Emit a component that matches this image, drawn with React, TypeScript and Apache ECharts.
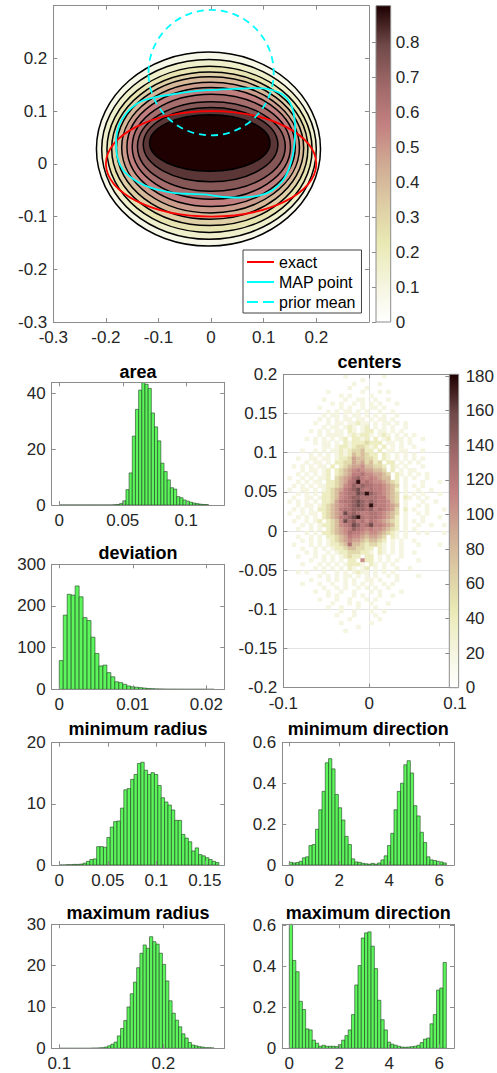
import React, { useEffect, useRef } from "react";
import * as echarts from "echarts";

const FONT = '"Liberation Sans", Arial, Helvetica, sans-serif';
const TEXT_COLOR = "#262626";
const AXIS_COLOR = "#8c8c8c";
const BAR_FILL = "#5cf55c";
const BAR_EDGE = "#1f3f1f";
const TICK_FS = 17;

// flipped MATLAB "pink" colormap, low -> high
const pinkMap = ["#ffffff", "#f4f4dd", "#e9e9b4", "#ddcca4", "#d0aa93", "#c38080", "#9f6868", "#704949", "#1e0000"];

// ---------- top panel: posterior density contours ----------
const topTickMarks = [-0.3, -0.2, -0.1, 0, 0.1, 0.2, 0.3];
const topTickLabels = [-0.3, -0.2, -0.1, 0, 0.1, 0.2];
const contourLevel = [0.08, 0.1625, 0.245, 0.3275, 0.41, 0.4925, 0.575, 0.6575, 0.74, 0.8225, 0.905];
const contourLeft = [-0.218, -0.208, -0.198, -0.189, -0.18, -0.17, -0.16, -0.15, -0.14, -0.129, -0.117];
const contourRight = [0.208, 0.2, 0.192, 0.184, 0.176, 0.168, 0.16, 0.151, 0.141, 0.127, 0.112];
const contourTop = [0.212, 0.198, 0.185, 0.174, 0.165, 0.155, 0.145, 0.132, 0.118, 0.107, 0.093];
const contourBottom = [-0.156, -0.143, -0.13, -0.117, -0.105, -0.093, -0.081, -0.067, -0.052, -0.034, -0.014];
const densityMax = 0.906;
const densityTicks = [0, 0.1, 0.2, 0.3, 0.4, 0.5, 0.6, 0.7, 0.8];
const exactShape = [0, 0, 0.2, 0.1]; // cx, cy, rx, ry
const priorMeanShape = [0, 0.173, 0.119, 0.119];
const mapPointX = [-0.1287, -0.1033, -0.0716, -0.0462, -0.0081, 0.0426, 0.0807, 0.1124, 0.1378, 0.1537, 0.16, 0.1569, 0.1492, 0.1365, 0.1156, 0.0902, 0.0553, 0.0236, -0.0081, -0.0398, -0.0716, -0.1001, -0.1255, -0.1477, -0.1668, -0.1782, -0.1807, -0.1744, -0.1591, -0.1426, -0.1287];
const mapPointY = [0.1206, 0.127, 0.132, 0.1359, 0.1397, 0.1422, 0.1435, 0.141, 0.1302, 0.1079, 0.0635, 0.0254, -0.0063, -0.0317, -0.0508, -0.0603, -0.0641, -0.0629, -0.0584, -0.0571, -0.0552, -0.0495, -0.0413, -0.0292, -0.0127, 0.0127, 0.0444, 0.0749, 0.0984, 0.113, 0.1206];

// ---------- histograms (pdf normalised) ----------
const areaStart = 0, areaBin = 0.0025;
const areaPdf = [0, 0, 0, 0, 0, 0, 0, 0, 0, 0, 0, 0, 0, 0, 0, 0, 0, 0.1, 0.2, 0.5, 1.5, 5.5, 11.5, 24.7, 34.3, 41.2, 43.9, 43.3, 41.8, 33, 28, 23, 15, 12, 9, 6.2, 5.7, 3, 2.6, 1.8, 1.4, 1, 0.7, 0.5, 0.3, 0.2, 0.15];
const areaXTicks = [0, 0.05, 0.1];
const areaYTicks = [0, 20, 40];

const devStart = 0, devBin = 0.00054;
const devPdf = [69, 178, 228, 226, 248, 222, 172, 165, 125, 86, 56, 58, 40, 30, 18, 16, 12, 8, 6, 5, 4, 3, 2, 1.5, 1, 0.8, 0.5, 0.3, 0.3, 0.2, 0.2, 0.1, 0.1, 0.1, 0.1, 0.1, 0.1, 0.05, 0.05];
const devXTicks = [0, 0.01, 0.02];
const devYTicks = [0, 100, 200, 300];

const minRStart = 0, minRBin = 0.0035;
const minRPdf = [0, 0, 0.05, 0.05, 0.1, 0.1, 0.15, 0.3, 0.6, 0.9, 1.0, 3.0, 3.0, 2.9, 4.5, 6.2, 7.1, 7.2, 9.3, 12.3, 12.5, 14.0, 14.8, 16.6, 16.8, 15.5, 14.8, 15.1, 14.8, 13.0, 11.0, 10.3, 9.8, 9.0, 7.3, 7.3, 5.0, 4.4, 3.8, 2.3, 2.8, 1.7, 1.5, 1.2, 0.9, 0.6, 0.4];
const minRXTicks = [0, 0.05, 0.1, 0.15];
const minRYTicks = [0, 10, 20];

const dirStart = 0, dirBin = 0.1309;
const minDirPdf = [0.013, 0.01, 0.012, 0.018, 0.035, 0.04, 0.095, 0.1, 0.175, 0.27, 0.36, 0.5, 0.52, 0.47, 0.345, 0.28, 0.22, 0.14, 0.1, 0.03, 0.015, 0.013, 0.008, 0.006, 0.004, 0.008, 0.004, 0.01, 0.025, 0.045, 0.095, 0.155, 0.27, 0.36, 0.4, 0.49, 0.51, 0.45, 0.29, 0.24, 0.16, 0.11, 0.04, 0.025, 0.022, 0.018, 0.015, 0.01];
const dirXTicks = [0, 2, 4, 6];
const dirYTicks = [0, 0.2, 0.4, 0.6];

const maxRStart = 0.1, maxRBin = 0.0031;
const maxRPdf = [0, 0, 0, 0, 0, 0, 0, 0, 0, 0, 0.05, 0.05, 0.1, 0.15, 0.3, 0.6, 1.0, 1.5, 3.0, 4.8, 6.7, 10, 13.2, 16, 19.5, 23, 25, 24.2, 27, 25.8, 25.2, 23, 20.3, 16.3, 11.5, 8.5, 6.8, 5.2, 3.5, 2.5, 1.4, 0.8, 0.6, 0.4, 0.3, 0.15, 0.15, 0.1];
const maxRXTicks = [0.1, 0.2];
const maxRYTicks = [0, 10, 20, 30];

const maxDirPdf = [0.607, 0.43, 0.375, 0.23, 0.19, 0.095, 0.09, 0.04, 0.025, 0.01, 0.015, 0.01, 0.01, 0.01, 0.008, 0.018, 0.04, 0.062, 0.09, 0.165, 0.31, 0.405, 0.54, 0.565, 0.57, 0.5, 0.39, 0.235, 0.14, 0.09, 0.03, 0.02, 0.015, 0.01, 0.006, 0.005, 0.006, 0.008, 0.01, 0.015, 0.028, 0.045, 0.05, 0.12, 0.165, 0.285, 0.295, 0.42];

// ---------- centers: 2-D histogram, 0.005 bins, rows from y=0.2 downwards, cols from x=-0.1 ----------
const centerBin = 0.005;
const centerX0 = -0.1;
const centerY0 = 0.2;
const centerMax = 181;
const centerTicksX = [-0.1, 0, 0.1];
const centerTicksY = [-0.2, -0.15, -0.1, -0.05, 0, 0.05, 0.1, 0.15, 0.2];
const centerBarTicks = [0, 20, 40, 60, 80, 100, 120, 140, 160, 180];
const centerCode: Record<string, number> = { "1": 20, "2": 38, "3": 58, "4": 78, "5": 94, "6": 106, "7": 116, "8": 126, "9": 140, A: 158, B: 176 };
const centerRows = [
  ".......... ....1..... ...1...... ..........",
  ".......... ........1. .......... ..........",
  ".......... ......1... ..1....... ..........",
  ".......... .....1...1 .......... ..........",
  ".......... 1.......1. ..1.1..... ..........",
  ".......... ...1.1.... 1......... ..........",
  ".........1 ....1..11. .1..1..... ..........",
  ".......... .1.1..1.1. 1.1...1... ..........",
  "........1. ...1.1..1. 11.1...... ..........",
  ".......... 1.1.11.1.1 ..1..1.... ..........",
  ".........1 .11.1.11.1 .1.1..1... ..........",
  "........1. 1.1.11.11. 1.11.1.... ..........",
  ".......1.. 1.11.11211 .1.11.1.1. ..........",
  ".........1 .11.121.12 .1.1.1..1. ..........",
  "......1.1. 1.11.21.12 2.11.1.1.. ..........",
  "........1. 1111.12122 1.121.1.1. 1.........",
  ".....1.1.1 .1.12.2212 .2.12.11.1 ..1.......",
  ".......1.1 1.1.212223 222.11.1.1 ..........",
  ".........1 1.12212332 12.2.1.1.. 1.........",
  "....1..1.1 .112123342 2.2.11.11. ..1.......",
  "......1.1. 1.12124343 22.21.1.1. 1.........",
  "...1..11.1 1.12235443 32.21.1.1. 1.1.......",
  ".....1.11. 1.22335453 423.22.1.1 .1........",
  "..1.1.1.11 .2.2345564 4332.21.1. ..1.......",
  "....1.11.1 2.23456765 5443.2.1.1 1.........",
  "...1.1.1.1 2.23457786 65543.21.1 .1.1......",
  ".1..1.1.11 2.34568976 76544.2.1. 1..1......",
  "...1.1.11. 2234578B78 7665432.1. ..1...1...",
  "..1.1.1.11 2234679898 8776543.1. 1.1.......",
  ".1..11.1.1 2345789A87 8776542.1. .1..1.....",
  "...1.1.1.2 2346788A9B 9876543.1. 1.1...1...",
  "..1..11.12 2346789988 8877543.21 .1.1......",
  ".1.1.1.1.2 2357889A98 9877643.1. ..1..1....",
  "...1.11.12 3456789A98 B877654.1. .1.1......",
  "..1.1.1.22 3457889998 9787653.2. 1..1...1..",
  ".1..1.11.2 3456A89877 8876543.1. .1.1......",
  "...1.1.1.2 345789AB87 8876542.1. ..1...1...",
  "..1..1.12. 2346A89786 8765432.1. 1.1.......",
  "....1.1.12 234678A978 A776542.1. .1..1..1..",
  "...1..1.1. 2345679876 7665432.1. 1.........",
  ".....1.1.2 2345687765 6654321.1. .1.1...1..",
  "...1..1.1. 2234576654 5543.21.1. ..........",
  "....1.1.1. 1234565543 4432.1.1.. 1.........",
  "..1...1.1. 1223484432 3321.1.1.. .1....1...",
  "....1..1.1 .122344332 2.21.1.1.. ..........",
  ".....1.1.. 1.12233322 1.21.1.1.. 1.........",
  "...1...1.1 .1.12322.2 2.1.1..1.. ..........",
  "......1..1 .1.1.22.62 2.1.1.1... .1........",
  "....1...1. 1.1.12221. 21.1.1.... ..........",
  ".......1.1 .1.1.21.12 .1.1..1..1 ..........",
  "...1.1...1 ..1.1.1211 .1.1.1.... ..........",
  "........1. 1.1.11.1.1 .1..1.1... .1........",
  "......1... 1.1.1.1..1 1.1...1... ..........",
  "....1...1. .1..1.1.1. 1..1.1.... ..........",
  ".........1 ..1.1..1.1 .1..1..... ..........",
  ".......1.. 1..1..1... 1.1....1.. ..........",
  ".......... 1.1...1.1. ..1..1.... ..........",
  "........1. ..1..1...1 .1........ ..........",
  ".......... .1...1.1.. 1...1..... ..........",
  ".......... 1..1...1.. .1........ ..........",
  ".......... ...1..1... 1..1...... ..........",
  ".......... ..1...1... .1........ ..........",
  ".......... .....1.... ..1....... ..........",
  ".......... ...1...... 1......... ..........",
  ".......... .......1.. .......... ..........",
  ".......... ....1..... .......... ..........",
];

// ---------- layout (pixel boxes: left, top, right, bottom) ----------
const L = {
  top: [53.3, 5.7, 368.9, 322],
  topBar: [376, 5.7, 390.7, 322],
  area: [51.7, 382.3, 224.3, 505],
  deviation: [51.7, 564.3, 224.3, 689.3],
  centers: [283.3, 374.3, 455, 687.7],
  centersBar: [449.3, 374.3, 461.7, 687.7],
  minR: [51.7, 742.7, 224.3, 865],
  minDir: [282.3, 742.3, 454, 865],
  maxR: [51.7, 924.3, 224.3, 1048.3],
  maxDir: [282.3, 924.3, 454, 1048.3],
};
const titles = [
  { text: "area", x: 138, y: 372 },
  { text: "deviation", x: 138, y: 552.5 },
  { text: "centers", x: 369.5, y: 362 },
  { text: "minimum radius", x: 138, y: 729 },
  { text: "minimum direction", x: 368.2, y: 729 },
  { text: "maximum radius", x: 138, y: 912.5 },
  { text: "maximum direction", x: 368.2, y: 912.5 },
];

function fmt(v: number) {
  return String(parseFloat(v.toFixed(6)));
}

function buildOption() {
  const grids: any[] = [];
  const xAxes: any[] = [];
  const yAxes: any[] = [];
  const series: any[] = [];
  const visualMaps: any[] = [];

  const axis = (gi: number, min: number, max: number, ticks: number[], labels: number[] | null, position: string, margin = 7) => ({
    type: "value", gridIndex: gi, min, max, position, z: 5,
    axisLine: { show: true, onZero: false, lineStyle: { color: AXIS_COLOR, width: 1 } },
    axisTick: { show: true, inside: true, length: 4, customValues: ticks, lineStyle: { color: AXIS_COLOR, width: 1 } },
    axisLabel: {
      show: !!labels, customValues: labels || ticks, formatter: (v: number) => fmt(v),
      color: TEXT_COLOR, fontSize: TICK_FS, fontFamily: FONT, margin,
    },
    splitLine: { show: false },
  });

  const panel = (box: number[], xr: number[], yr: number[], xt: number[], yt: number[], opts: any = {}) => {
    const gi = grids.length;
    grids.push({ left: box[0], top: box[1], width: box[2] - box[0], height: box[3] - box[1] });
    const xi = xAxes.length, yi = yAxes.length;
    xAxes.push(axis(gi, xr[0], xr[1], opts.xTickMarks || xt, xt, "bottom", 7));
    xAxes.push(axis(gi, xr[0], xr[1], opts.xTickMarks || xt, null, "top"));
    yAxes.push(axis(gi, yr[0], yr[1], opts.yTickMarks || yt, yt, "left", 6));
    yAxes.push(axis(gi, yr[0], yr[1], opts.yTickMarks || yt, null, "right"));
    return { gi, xi, yi };
  };

  const colorbar = (box: number[], max: number, ticks: number[], margin: number) => {
    const gi = grids.length;
    grids.push({ left: box[0], top: box[1], width: box[2] - box[0], height: box[3] - box[1] });
    const xi = xAxes.length, yi = yAxes.length;
    xAxes.push({ type: "value", gridIndex: gi, min: 0, max: 1, show: false });
    yAxes.push({
      type: "value", gridIndex: gi, min: 0, max, position: "right", z: 11,
      axisLine: { show: false },
      axisTick: { show: true, inside: true, length: 4, customValues: ticks, lineStyle: { color: AXIS_COLOR } },
      axisLabel: { customValues: ticks, formatter: (v: number) => fmt(v), color: TEXT_COLOR, fontSize: TICK_FS, fontFamily: FONT, margin },
      splitLine: { show: false },
    });
    series.push({
      type: "custom", xAxisIndex: xi, yAxisIndex: yi, z: 10, data: [[0, max]], silent: true,
      renderItem: (_p: any, api: any) => {
        const a = api.coord([0, api.value(1)]);
        const b = api.coord([1, 0]);
        return {
          type: "rect",
          shape: { x: a[0], y: a[1], width: b[0] - a[0], height: b[1] - a[1] },
          style: {
            fill: new echarts.graphic.LinearGradient(0, 1, 0, 0, pinkMap.map((c, i) => ({ offset: i / (pinkMap.length - 1), color: c }))),
            stroke: AXIS_COLOR, lineWidth: 1,
          },
        };
      },
    });
  };

  const hist = (p: any, start: number, width: number, heights: number[]) => {
    series.push({
      type: "custom", xAxisIndex: p.xi, yAxisIndex: p.yi, silent: true,
      data: heights.map((h, i) => [start + i * width, start + (i + 1) * width, h]),
      encode: { x: [0, 1], y: 2 },
      renderItem: (_p: any, api: any) => {
        const a = api.coord([api.value(0), api.value(2)]);
        const b = api.coord([api.value(1), 0]);
        return {
          type: "rect",
          shape: { x: a[0], y: a[1], width: b[0] - a[0], height: b[1] - a[1] },
          style: { fill: BAR_FILL, stroke: BAR_EDGE, lineWidth: 0.6 },
        };
      },
    });
  };

  // ---- top contour plot ----
  const top = panel(L.top, [-0.3, 0.3], [-0.3, 0.3], topTickLabels, topTickLabels, { xTickMarks: topTickMarks, yTickMarks: topTickMarks });
  const contourIdx = series.length;
  series.push({
    type: "custom", xAxisIndex: top.xi, yAxisIndex: top.yi, silent: true,
    data: contourLevel.map((v, i) => [v, contourLeft[i], contourRight[i], contourTop[i], contourBottom[i]]),
    encode: { x: [1, 2], y: [3, 4] },
    renderItem: (_p: any, api: any) => {
      const a = api.coord([api.value(1), api.value(3)]);
      const b = api.coord([api.value(2), api.value(4)]);
      return {
        type: "ellipse",
        shape: { cx: (a[0] + b[0]) / 2, cy: (a[1] + b[1]) / 2, rx: Math.abs(b[0] - a[0]) / 2, ry: Math.abs(b[1] - a[1]) / 2 },
        style: { fill: api.visual("color"), stroke: "#000", lineWidth: 1.5 },
      };
    },
  });
  visualMaps.push({ type: "continuous", show: false, seriesIndex: contourIdx, dimension: 0, min: 0, max: densityMax, inRange: { color: pinkMap } });

  const ellipseSeries = (name: string, shape: number[], color: string, dash: number[] | null) => ({
    name, type: "custom", xAxisIndex: top.xi, yAxisIndex: top.yi, silent: true,
    itemStyle: { color },
    data: [shape],
    renderItem: (_p: any, api: any) => {
      const c = api.coord([api.value(0), api.value(1)]);
      const s = api.size([api.value(2), api.value(3)], [api.value(0), api.value(1)]);
      return {
        type: "ellipse",
        shape: { cx: c[0], cy: c[1], rx: s[0], ry: s[1] },
        style: { fill: "none", stroke: color, lineWidth: 1.8, lineDash: dash || undefined },
      };
    },
  });
  series.push(ellipseSeries("exact", exactShape, "#ff0000", null));
  series.push({
    name: "MAP point", type: "line", xAxisIndex: top.xi, yAxisIndex: top.yi, symbol: "none", smooth: 0.3, silent: true,
    itemStyle: { color: "#00ffff" },
    lineStyle: { color: "#00ffff", width: 1.8 },
    data: mapPointX.map((x, i) => [x, mapPointY[i]]),
  });
  series.push(ellipseSeries("prior mean", priorMeanShape, "#00ffff", [7, 5]));

  colorbar(L.topBar, densityMax, densityTicks, 5);

  // ---- histograms ----
  const area = panel(L.area, [-0.006, 0.13], [0, 44], areaXTicks, areaYTicks);
  hist(area, areaStart, areaBin, areaPdf);

  const dev = panel(L.deviation, [-0.00103, 0.02245], [0, 300], devXTicks, devYTicks);
  hist(dev, devStart, devBin, devPdf);

  const minR = panel(L.minR, [-0.0078, 0.17], [0, 20], minRXTicks, minRYTicks);
  hist(minR, minRStart, minRBin, minRPdf);

  const minDir = panel(L.minDir, [-0.28, 6.59], [0, 0.6], dirXTicks, dirYTicks);
  hist(minDir, dirStart, dirBin, minDirPdf);

  const maxR = panel(L.maxR, [0.0927, 0.2587], [0, 30], maxRXTicks, maxRYTicks);
  hist(maxR, maxRStart, maxRBin, maxRPdf);

  const maxDir = panel(L.maxDir, [-0.28, 6.59], [0, 0.607], dirXTicks, dirYTicks);
  hist(maxDir, dirStart, dirBin, maxDirPdf);

  // ---- centers 2-D histogram ----
  const cen = panel(L.centers, [-0.1, 0.1], [-0.2, 0.2], centerTicksX, centerTicksY);
  // hidden axes only for the light grid behind the cells
  xAxes.push({ type: "value", gridIndex: cen.gi, min: -0.1, max: 0.1, interval: 0.1, z: 1, axisLine: { show: false }, axisTick: { show: false }, axisLabel: { show: false }, splitLine: { show: true, lineStyle: { color: "#e3e3e3", width: 1 } } });
  yAxes.push({ type: "value", gridIndex: cen.gi, min: -0.2, max: 0.2, interval: 0.05, z: 1, axisLine: { show: false }, axisTick: { show: false }, axisLabel: { show: false }, splitLine: { show: true, lineStyle: { color: "#e3e3e3", width: 1 } } });
  const cells: number[][] = [];
  centerRows.forEach((row, r) => {
    const s = row.replace(/ /g, "");
    for (let c = 0; c < s.length; c++) {
      const v = centerCode[s[c]];
      if (v) cells.push([centerX0 + c * centerBin, centerX0 + (c + 1) * centerBin, centerY0 - r * centerBin, centerY0 - (r + 1) * centerBin, v]);
    }
  });
  const cellIdx = series.length;
  series.push({
    type: "custom", xAxisIndex: cen.xi, yAxisIndex: cen.yi, silent: true, z: 3,
    data: cells,
    encode: { x: [0, 1], y: [2, 3] },
    renderItem: (_p: any, api: any) => {
      const a = api.coord([api.value(0), api.value(2)]);
      const b = api.coord([api.value(1), api.value(3)]);
      const col = api.visual("color");
      return {
        type: "rect",
        shape: { x: a[0], y: a[1], width: b[0] - a[0], height: b[1] - a[1] },
        style: { fill: col, stroke: col, lineWidth: 0.3 },
      };
    },
  });
  visualMaps.push({ type: "continuous", show: false, seriesIndex: cellIdx, dimension: 4, min: 0, max: centerMax, inRange: { color: pinkMap } });

  colorbar(L.centersBar, centerMax, centerBarTicks, 7);

  return {
    animation: false,
    backgroundColor: "#ffffff",
    grid: grids,
    xAxis: xAxes,
    yAxis: yAxes,
    visualMap: visualMaps,
    legend: {
      left: 243, top: 250, orient: "vertical",
      itemWidth: 27, itemHeight: 2, itemGap: 4,
      padding: [4, 6, 3, 4],
      borderColor: "#404040", borderWidth: 1, backgroundColor: "#ffffff",
      selectedMode: false,
      textStyle: { color: "#000", fontSize: 16, fontFamily: FONT, lineHeight: 16 },
      data: [
        { name: "exact", icon: "rect", itemStyle: { color: "#ff0000" } },
        { name: "MAP point", icon: "rect", itemStyle: { color: "#00ffff" } },
        { name: "prior mean", icon: "path://M0,0L11,0L11,2L0,2Z M16,0L27,0L27,2L16,2Z", itemStyle: { color: "#00ffff" } },
      ],
    },
    graphic: titles.map((t) => ({
      type: "text", x: t.x, y: t.y, silent: true,
      style: { text: t.text, align: "center", verticalAlign: "middle", fontSize: 18, fontWeight: "bold", fontFamily: FONT, fill: "#000" },
    })),
    series,
  };
}

export default function App() {
  const ref = useRef<HTMLDivElement>(null);
  useEffect(() => {
    if (!ref.current) return;
    const chart = echarts.init(ref.current, undefined, { renderer: "svg" });
    chart.setOption(buildOption() as any);
    return () => chart.dispose();
  }, []);
  return <div ref={ref} style={{ position: "absolute", left: 0, top: 0, width: 497, height: 1073 }} />;
}
